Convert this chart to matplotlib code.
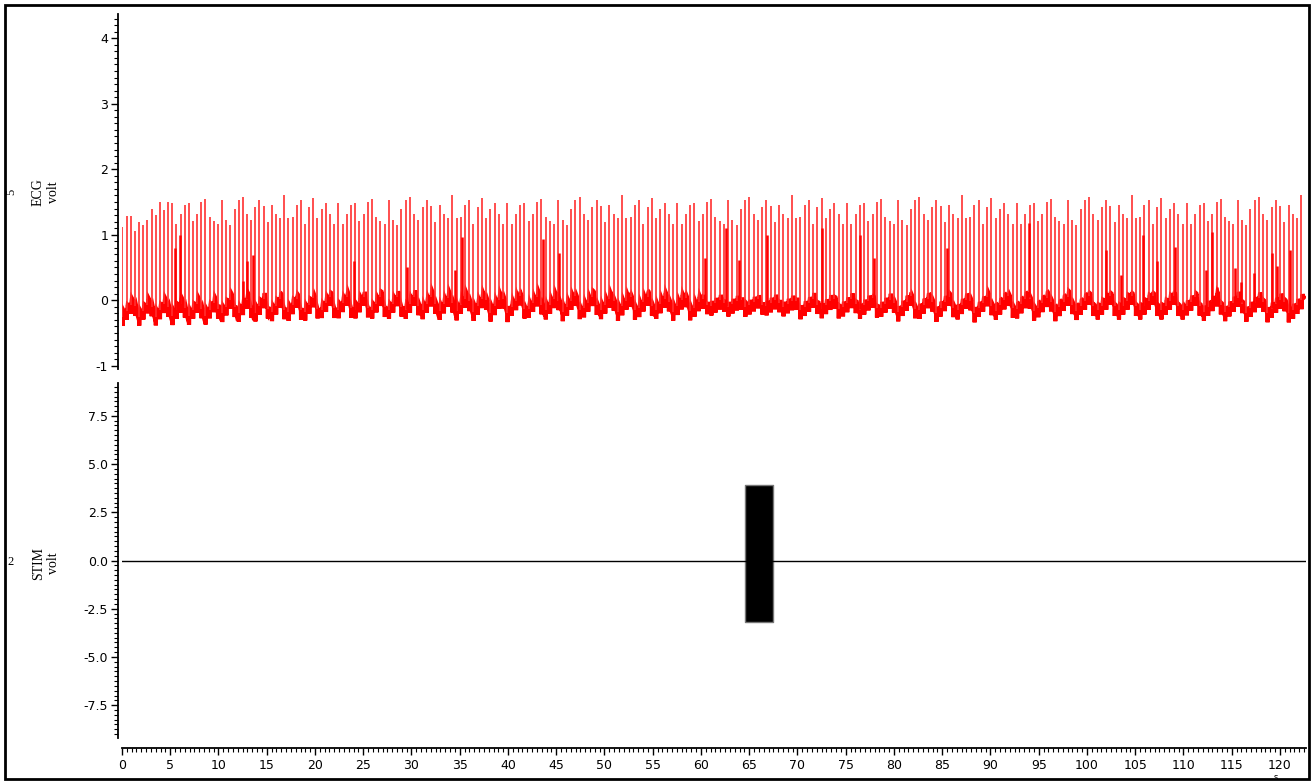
import numpy as np
import matplotlib.pyplot as plt
from matplotlib.patches import Rectangle
from matplotlib.ticker import MultipleLocator, FormatStrFormatter

plt.rcParams['axes.unicode_minus'] = False

# ---- values ----
# ECG channel, described per 10 s segment
seg_start = [0, 10, 20, 30, 40, 50, 60, 70, 80, 90, 100, 110, 120]
rr_interval = [0.43, 0.43, 0.435, 0.44, 0.44, 0.44, 0.44, 0.44, 0.44, 0.44, 0.44, 0.44, 0.44]
resp_period = [1.7, 1.7, 1.75, 1.8, 1.9, 1.9, 1.9, 2.0, 2.0, 2.1, 2.2, 2.25, 2.25]
resp_amp = [0.13, 0.14, 0.14, 0.14, 0.13, 0.13, 0.07, 0.10, 0.13, 0.13, 0.13, 0.13, 0.13]
baseline = [-0.14, -0.10, -0.07, -0.06, -0.06, -0.06, -0.05, -0.06, -0.07, -0.06, -0.06, -0.07, -0.08]

# R-peak heights (volt): first beats, then the repeating spread seen later
early_peaks = [1.12, 1.28, 1.28, 1.05, 1.20, 1.15, 1.22, 1.40, 1.30, 1.50, 1.38, 1.50]
peak_pattern = [1.48, 1.17, 1.32, 1.45, 1.48, 1.21, 1.32, 1.50, 1.55, 1.27,
                1.21, 1.17, 1.53, 1.22, 1.15, 1.40, 1.53, 1.58, 1.32, 1.22,
                1.43, 1.53, 1.44, 1.19, 1.45, 1.32, 1.25, 1.60, 1.26, 1.27,
                1.45, 1.53, 1.17, 1.43, 1.56, 1.25, 1.40, 1.49, 1.31, 1.16]

# shorter spikes visible between the tall ones
short_t = [5.5, 6.0, 12.5, 13.0, 13.6, 24.0, 29.5, 34.5, 35.2, 43.6, 45.3, 60.4,
           62.6, 63.9, 66.8, 72.5, 76.5, 77.9, 85.5, 94.0, 102.0, 103.5, 105.8,
           107.3, 109.1, 112.3, 113.0, 113.5, 115.3, 116.0, 117.3, 119.2, 119.7,
           121.0]
short_h = [0.79, 1.00, 0.30, 0.60, 0.69, 0.60, 0.50, 0.46, 0.96, 0.94, 0.72, 0.64,
           1.11, 0.61, 1.00, 1.10, 1.00, 0.64, 0.80, 1.18, 0.76, 0.38, 1.00,
           0.60, 0.82, 0.46, 1.04, 0.20, 0.49, 0.28, 0.41, 0.72, 0.52,
           0.76]

t_end = 122.5
x_max = 122.7

# STIM channel
stim_t = [0, x_max]
stim_v = [0, 0]
stim_on, stim_off = 64.6, 67.5
stim_hi, stim_lo = 3.93, -3.2

# ---- build ECG trace ----
dt = 0.004
t = np.arange(0, t_end, dt)
seg = np.searchsorted(seg_start, t, side='right') - 1
period = np.array(resp_period)[seg]
phase = np.cumsum(dt / period)
frac = phase % 1.0
wave = np.where(frac < 0.7, frac / 0.7, (1 - frac) / 0.3)
base = np.array(baseline)[seg] + np.array(resp_amp)[seg] * (2 * wave - 1)

beat_t = []
bt = 0.05
while bt < t_end:
    beat_t.append(bt)
    bt += rr_interval[int(bt // 10)]
beat_t = np.array(beat_t)
peaks = [early_peaks[i] if i < len(early_peaks) else peak_pattern[(i - len(early_peaks)) % len(peak_pattern)]
         for i in range(len(beat_t))]

trace = base.copy()
for b in beat_t:
    trace -= 0.14 * np.exp(-((t - b - 0.015) / 0.008) ** 2)
    trace += 0.07 * np.exp(-((t - b - 0.12) / 0.04) ** 2)

beat_base = np.interp(beat_t, t, base)
short_base = np.interp(short_t, t, base)

# ---- figure ----
W, H = 1313, 783
fig = plt.figure(figsize=(W / 100, H / 100), dpi=100)

left = 122 / W
width = (1306 - 122) / W

ax1 = fig.add_axes([left, 1 - 369 / H, width, (369 - 14) / H])
ax2 = fig.add_axes([left, 1 - 738 / H, width, (738 - 383) / H])

ax1.plot(t, trace, color='#ff0000', lw=3.0, solid_joinstyle='miter')
ax1.vlines(beat_t, beat_base, peaks, color='#ff3030', lw=1.2)
ax1.vlines(short_t, short_base, short_h, color='#ff0000', lw=1.8)
ax1.set_xlim(0, x_max)
ax1.set_ylim(-1.05, 4.37)

ax2.plot(stim_t, stim_v, color='black', lw=1.0)
ax2.fill_between([stim_on, stim_off], stim_lo, stim_hi, color='black',
                 edgecolor='#777777', lw=1)
ax2.set_xlim(0, x_max)
ax2.set_ylim(-9.2, 9.2)

for ax in (ax1, ax2):
    for s in ('top', 'right'):
        ax.spines[s].set_visible(False)
    ax.spines['left'].set_linewidth(1.3)
    ax.spines['left'].set_position(('outward', 3))
    ax.tick_params(axis='y', which='major', length=5, width=1, labelsize=9, pad=2)
    ax.tick_params(axis='y', which='minor', length=3, width=0.8)

ax1.spines['bottom'].set_visible(False)
ax1.tick_params(axis='x', which='both', bottom=False, labelbottom=False)
ax1.yaxis.set_major_locator(MultipleLocator(1))
ax1.yaxis.set_minor_locator(MultipleLocator(0.1))

ax2.yaxis.set_major_locator(MultipleLocator(2.5))
ax2.yaxis.set_minor_locator(MultipleLocator(0.25))
ax2.yaxis.set_major_formatter(FormatStrFormatter('%.1f'))
ax2.spines['bottom'].set_position(('outward', 7))
ax2.spines['bottom'].set_linewidth(1.3)
ax2.xaxis.set_major_locator(MultipleLocator(5))
ax2.xaxis.set_minor_locator(MultipleLocator(0.5))
ax2.tick_params(axis='x', which='major', length=5, width=1, labelsize=9, pad=3)
ax2.tick_params(axis='x', which='minor', length=3, width=0.8)

# channel titles
serif = 'Liberation Serif'
fig.text(46 / W, 1 - 192 / H, 'ECG\nvolt', rotation=90, ha='center', va='center',
         fontsize=10, family=serif, linespacing=1.2)
fig.text(46 / W, 1 - 563 / H, 'STIM\nvolt', rotation=90, ha='center', va='center',
         fontsize=10, family=serif, linespacing=1.2)
fig.text(11 / W, 1 - 192 / H, '5', rotation=90, ha='center', va='center',
         fontsize=9, family=serif)
fig.text(11 / W, 1 - 562 / H, '2', ha='center', va='center', fontsize=9, family=serif)
fig.text(1276 / W, 1 - 777 / H, 's', ha='center', va='center', fontsize=6)

fig.patches.append(Rectangle((5 / W, 1 - 779 / H), 1304 / W, 774 / H,
                             transform=fig.transFigure, fill=False,
                             edgecolor='black', lw=2))

fig.savefig('out.png', dpi=100)
